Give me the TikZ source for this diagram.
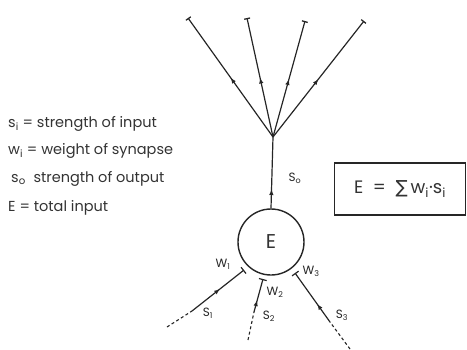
\documentclass[tikz,border=0pt]{standalone}
\usepackage{fontspec}
\setmainfont{Poppins}
\newfontfamily\symfont{DejaVu Sans}
\usetikzlibrary{arrows.meta,decorations.markings}
\tikzset{
  wire/.style={line width=1.2pt,draw=black!85},
  midarrow/.style={postaction={decorate,decoration={markings,mark=at position #1 with {\arrow{Latex[length=6pt,width=4.5pt]}}}}},
  synend/.style={-{Bar[width=8pt,line width=1.2pt]}},
  tipend/.style={-{Bar[width=6pt,line width=1.3pt]}},
  dashpart/.style={line width=1.1pt,draw=black!85,dash pattern=on 3pt off 2.5pt},
  lbl/.style={font=\fontsize{12}{12}\selectfont,inner sep=0pt,text=black!85},
  legend/.style={anchor=west,font=\fontsize{14.5}{14.5}\selectfont,inner sep=0pt,text=black!80},
}
\begin{document}
\begin{tikzpicture}[x=1pt,y=-1pt]
\useasboundingbox (0,0) rectangle (467,349);
% neuron
\node[wire,draw,line width=1.4pt,circle,minimum size=66pt,inner sep=0pt,font=\fontsize{20}{20}\selectfont,text=black!80] (E) at (271,242) {E};
\coordinate (bp) at (273,137);
\coordinate (t1) at (188,18);
\coordinate (t2) at (247,18);
\coordinate (t3) at (305,21);
\coordinate (t4) at (364,21);
\draw[wire,midarrow=0.27] (E.north) -- (bp);
\draw[wire,tipend,midarrow=0.5] (bp) -- (t1);
\draw[wire,tipend,midarrow=0.5] (bp) -- (t2);
\draw[wire,tipend,midarrow=0.5] (bp) -- (t3);
\draw[wire,tipend,midarrow=0.5] (bp) -- (t4);
% inputs
\coordinate (a1) at (167,327);
\coordinate (m1) at (192,311);
\coordinate (y1) at (244,270);
\coordinate (a2) at (248,340);
\coordinate (m2) at (254,312);
\coordinate (y2) at (263,279);
\coordinate (a3) at (350,349);
\coordinate (m3) at (330,322);
\coordinate (y3) at (295,273);
\draw[dashpart] (a1) -- (m1);
\draw[wire,synend,midarrow=0.54] (m1) -- (y1);
\draw[dashpart] (a2) -- (m2);
\draw[wire,synend,midarrow=0.36] (m2) -- (y2);
\draw[dashpart] (a3) -- (m3);
\draw[wire,synend,midarrow=0.37] (m3) -- (y3);
% labels
\node[lbl] (so) at (295,178) {S\textsubscript{o}};
\node[lbl] (w1) at (223,264) {W\textsubscript{1}};
\node[lbl] (w2) at (275,292) {W\textsubscript{2}};
\node[lbl] (w3) at (311,271) {W\textsubscript{3}};
\node[lbl] (s1) at (208,313) {S\textsubscript{1}};
\node[lbl] (s2) at (269,316) {S\textsubscript{2}};
\node[lbl] (s3) at (342,315) {S\textsubscript{3}};
% formula box
\node[wire,draw,minimum width=131pt,minimum height=52pt,inner sep=0pt,font=\fontsize{18}{18}\selectfont,text=black!80] (box) at (400,189) {E\ \ =\ \ {\symfont ∑}\,w\textsubscript{i}·s\textsubscript{i}};
% legend
\node[legend] (l1) at (8,124) {s\textsubscript{i} = strength of input};
\node[legend] (l2) at (8,151) {w\textsubscript{i} = weight of synapse};
\node[legend] (l3) at (11,179) {s\textsubscript{o}\ \ strength of output};
\node[legend] (l4) at (8,208) {E = total input};
\end{tikzpicture}
\end{document}
